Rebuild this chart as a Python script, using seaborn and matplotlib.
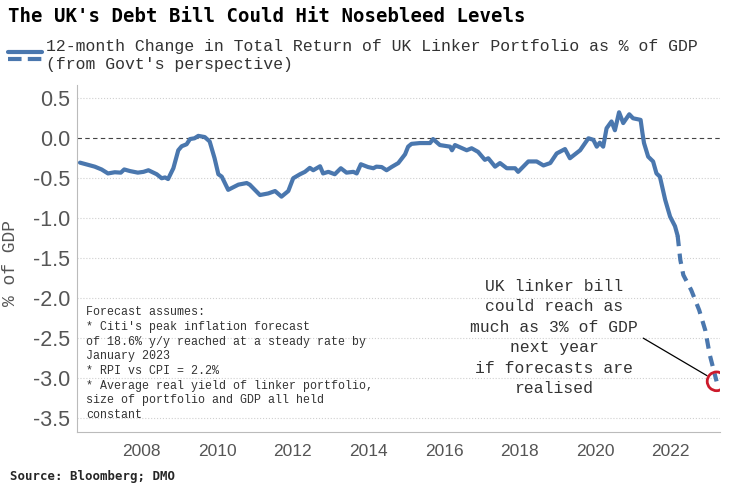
import numpy as np
import pandas as pd
import seaborn as sns
import matplotlib.pyplot as plt
from matplotlib.lines import Line2D

# traced series: decimal year vs % of GDP
hist_years = [
    2006.37, 2006.76, 2006.94, 2007.11, 2007.29, 2007.45, 2007.54, 2007.69,
    2007.90, 2008.05, 2008.18, 2008.40, 2008.53, 2008.62, 2008.70, 2008.84,
    2008.97, 2009.06, 2009.19, 2009.28, 2009.40, 2009.50, 2009.67, 2009.80,
    2009.93, 2010.03, 2010.12, 2010.29, 2010.56, 2010.78, 2010.86, 2011.13,
    2011.35, 2011.53, 2011.70, 2011.88, 2012.01, 2012.19, 2012.32, 2012.45,
    2012.54, 2012.72, 2012.80, 2012.94, 2013.11, 2013.27, 2013.42, 2013.60,
    2013.69, 2013.80, 2013.99, 2014.13, 2014.21, 2014.35, 2014.48, 2014.61,
    2014.79, 2014.97, 2015.05, 2015.14, 2015.36, 2015.63, 2015.71, 2015.89,
    2016.16, 2016.21, 2016.29, 2016.60, 2016.73, 2016.90, 2017.08, 2017.17,
    2017.35, 2017.48, 2017.66, 2017.88, 2017.96, 2018.23, 2018.45, 2018.63,
    2018.81, 2018.98, 2019.20, 2019.33, 2019.60, 2019.82, 2019.95, 2020.04,
    2020.12, 2020.21, 2020.30, 2020.43, 2020.52, 2020.63, 2020.74, 2020.90,
    2021.00, 2021.20, 2021.25, 2021.29, 2021.40, 2021.53, 2021.62, 2021.71,
    2021.85, 2021.98, 2022.11, 2022.18,
]
hist_values = [
    -0.305, -0.355, -0.39, -0.44, -0.425, -0.43, -0.39, -0.41,
    -0.43, -0.42, -0.40, -0.45, -0.50, -0.49, -0.51, -0.375,
    -0.15, -0.10, -0.075, -0.01, 0.00, 0.03, 0.015, -0.04,
    -0.25, -0.45, -0.48, -0.645, -0.58, -0.56, -0.58, -0.71,
    -0.69, -0.66, -0.73, -0.66, -0.50, -0.45, -0.42, -0.37,
    -0.40, -0.35, -0.44, -0.42, -0.45, -0.375, -0.43, -0.42,
    -0.44, -0.325, -0.36, -0.375, -0.355, -0.36, -0.40, -0.36,
    -0.31, -0.20, -0.105, -0.07, -0.06, -0.06, -0.01, -0.085,
    -0.105, -0.15, -0.085, -0.15, -0.125, -0.17, -0.27, -0.25,
    -0.355, -0.31, -0.375, -0.375, -0.42, -0.29, -0.29, -0.34,
    -0.31, -0.19, -0.135, -0.25, -0.15, 0.00, -0.02, -0.105,
    -0.055, -0.105, 0.125, 0.21, 0.10, 0.325, 0.19, 0.30,
    0.25, 0.23, 0.06, -0.06, -0.23, -0.29, -0.44, -0.48,
    -0.77, -0.98, -1.10, -1.22,
]
fcst_years = [2022.18, 2022.25, 2022.33, 2022.54, 2022.75, 2022.91, 2023.03, 2023.21]
fcst_values = [-1.22, -1.52, -1.71, -1.90, -2.15, -2.40, -2.71, -3.04]

y_ticks = [0.5, 0.0, -0.5, -1.0, -1.5, -2.0, -2.5, -3.0, -3.5]
x_ticks = [2008, 2010, 2012, 2014, 2016, 2018, 2020, 2022]

BLUE = "#4a77ae"
RED = "#cc1a2b"
GREY = "#555555"
MONO = ["Liberation Mono", "DejaVu Sans Mono"]
NARROW = ["Liberation Sans Narrow", "Liberation Sans", "DejaVu Sans"]

sns.set_style("white")
plt.rcParams["font.family"] = MONO
plt.rcParams["axes.unicode_minus"] = False

fig = plt.figure(figsize=(7.38, 4.90), dpi=100)
ax = fig.add_axes([0.1043, 0.119, 0.8713, 0.7075])

hist = pd.DataFrame({"year": hist_years, "value": hist_values})
fcst = pd.DataFrame({"year": fcst_years, "value": fcst_values})
sns.lineplot(data=hist, x="year", y="value", ax=ax, color=BLUE, lw=3,
             estimator=None, sort=False, zorder=4)
sns.lineplot(data=fcst, x="year", y="value", ax=ax, color=BLUE, lw=3,
             estimator=None, sort=False, zorder=4, dashes=False)
ax.lines[-1].set_linestyle((0, (2.5, 1.8)))

# red ring on the last forecast point (scatter so the axes edge clips it)
ax.scatter(fcst_years[-1:], fcst_values[-1:], s=13.5 ** 2, facecolors="none",
           edgecolors=RED, linewidths=2, zorder=5)

ax.set_xlim(2006.29, 2023.30)
ax.set_ylim(-3.67, 0.666)
ax.set_xticks(x_ticks)
ax.set_xticklabels([str(x) for x in x_ticks], fontsize=12.5, family=NARROW, color=GREY)
ax.set_yticks(y_ticks)
ax.set_yticklabels([f"{v:.1f}" for v in y_ticks], fontsize=15.5, family=NARROW, color=GREY)
ax.tick_params(axis="y", length=4, width=0.8, color="#aaaaaa", pad=1)
ax.tick_params(axis="x", length=5, width=0.8, color="#aaaaaa", pad=4)

ax.set_xlabel("")
ax.set_ylabel("% of GDP", fontsize=13, color=GREY)
ax.yaxis.set_label_coords(-0.09, 0.487)

for s in ["top", "right"]:
    ax.spines[s].set_visible(False)
for s in ["left", "bottom"]:
    ax.spines[s].set_color("#bbbbbb")
    ax.spines[s].set_linewidth(0.8)

for v in y_ticks:
    if v == 0:
        ax.axhline(v, ls=(0, (4, 3)), color="#444444", lw=0.8, zorder=2)
    else:
        ax.axhline(v, ls=":", color="#d0d0d0", lw=0.8, zorder=1)

ax.text(0.014, 0.362,
        "Forecast assumes:\n"
        "* Citi's peak inflation forecast\n"
        "of 18.6% y/y reached at a steady rate by\n"
        "January 2023\n"
        "* RPI vs CPI = 2.2%\n"
        "* Average real yield of linker portfolio,\n"
        "size of portfolio and GDP all held\n"
        "constant",
        transform=ax.transAxes, ha="left", va="top", fontsize=8.4,
        linespacing=1.3, color="#333333")

ax.text(2018.91, -2.49,
        "UK linker bill\ncould reach as\nmuch as 3% of GDP\nnext year\n"
        "if forecasts are\nrealised",
        ha="center", va="center", multialignment="center", fontsize=11.8,
        linespacing=1.46, color="#333333")
ax.annotate("", xy=(fcst_years[-1], fcst_values[-1]), xytext=(2021.27, -2.5),
            arrowprops=dict(arrowstyle="-", color="black", lw=0.9,
                            shrinkA=0, shrinkB=8))

# header, legend and footer
fig.text(8 / 738, 1 - 17 / 490, "The UK's Debt Bill Could Hit Nosebleed Levels",
         fontsize=13.7, fontweight="bold", family="DejaVu Sans Mono",
         va="center", ha="left", color="black")
fig.add_artist(Line2D([8 / 738, 42 / 738], [1 - 52 / 490] * 2, color=BLUE, lw=3,
                      transform=fig.transFigure))
fig.add_artist(Line2D([8 / 738, 42 / 738], [1 - 59 / 490] * 2, color=BLUE, lw=3,
                      ls=(0, (3.25, 1.5)), transform=fig.transFigure))
fig.text(46 / 738, 1 - 47 / 490,
         "12-month Change in Total Return of UK Linker Portfolio as % of GDP",
         fontsize=11.9, va="center", ha="left", color="#333333")
fig.text(46 / 738, 1 - 65 / 490, "(from Govt's perspective)",
         fontsize=11.9, va="center", ha="left", color="#333333")
fig.text(10 / 738, 1 - 476 / 490, "Source: Bloomberg; DMO", fontsize=8.9,
         fontweight="bold", family="DejaVu Sans Mono", va="center", ha="left")

fig.savefig("out.png", dpi=100)
